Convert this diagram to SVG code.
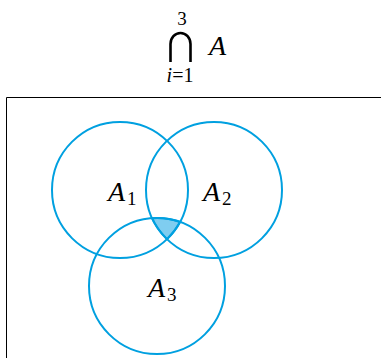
<svg xmlns="http://www.w3.org/2000/svg" width="381" height="358" viewBox="0 0 381 358">
<style>
.c{fill:none;stroke:#00a0e0;stroke-width:2}
.it{font-family:'Liberation Serif',Tinos,'Times New Roman',serif;font-style:italic;font-size:28px;fill:#000}
.rm{font-family:'Liberation Serif',Tinos,'Times New Roman',serif;font-size:19px;fill:#000}
.frame{fill:none;stroke:#000;stroke-width:1}
</style>
<g id="title">
<text class="rm" x="182" y="25" text-anchor="middle">3</text>
<path d="M170.5,62 V44 A10,11 0 0 1 190.5,44 V62" fill="none" stroke="#000" stroke-width="2.6"/>
<text class="it" x="209" y="55">A</text>
<text class="rm" x="180" y="82" text-anchor="middle" style="font-size:20px"><tspan font-style="italic">i</tspan>=1</text>
</g>
<g id="frame">
<path class="frame" d="M381,97.5 H6.5 V358"/>
</g>
<g id="intersection">
<path d="M152.1,218.2 A68,68 0 0 1 180,222 A68,68 0 0 1 167,239.1 A68,68 0 0 1 152.1,218.2 Z" fill="#7fcdf0" stroke="#00a0e0" stroke-width="2"/>
</g>
<g id="A1">
<circle class="c" cx="120" cy="190" r="68"/>
<text class="it" x="108" y="201">A</text><text class="rm" x="127" y="205">1</text>
</g>
<g id="A2">
<circle class="c" cx="214" cy="190" r="68"/>
<text class="it" x="203" y="201">A</text><text class="rm" x="222" y="205">2</text>
</g>
<g id="A3">
<circle class="c" cx="157" cy="286" r="68"/>
<text class="it" x="148" y="297">A</text><text class="rm" x="167" y="301">3</text>
</g>
</svg>
